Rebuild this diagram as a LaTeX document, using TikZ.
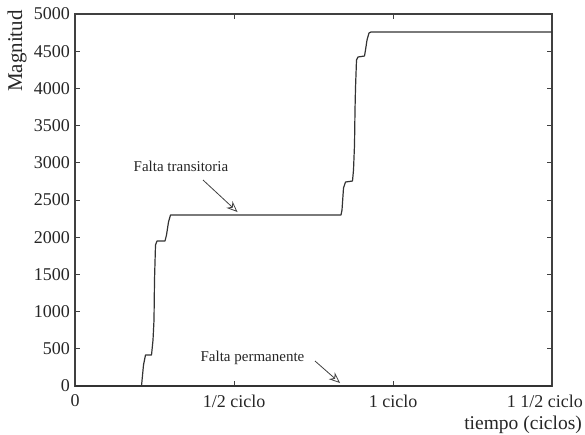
\documentclass[tikz,border=0pt]{standalone}
\usepackage{fontspec}
\setmainfont{Liberation Serif}
\usetikzlibrary{arrows.meta}
\begin{document}
\begin{tikzpicture}[x=1pt,y=-1pt,
  axisline/.style={draw=black!75, line width=1.1pt},
  curveline/.style={draw=black!80, line width=1.2pt, line join=round},
  tickmark/.style={draw=black!75, line width=0.9pt},
  ticklabel/.style={inner sep=0pt, text=black!85, font=\fontsize{18}{20}\selectfont},
  annot/.style={inner sep=0pt, text=black!85, font=\fontsize{15}{17}\selectfont},
  annotarrow/.style={draw=black!75, line width=0.8pt, -{Stealth[open, length=11pt, width=9pt, inset=3.5pt]}}]
\useasboundingbox (0,0) rectangle (585,434);
% axes box
\draw[axisline] (75,14) rectangle (552,386);
% y ticks
\foreach \v/\lab in {0/0,500/500,1000/1000,1500/1500,2000/2000,2500/2500,3000/3000,3500/3500,4000/4000,4500/4500,5000/5000}{
  \pgfmathsetmacro{\yy}{386-\v*0.0744}
  \draw[tickmark] (75,\yy) -- (80,\yy);
  \draw[tickmark] (552,\yy) -- (547,\yy);
  \node[ticklabel, anchor=east] (yl\v) at (70,\yy) {\lab};
}
% x ticks
\foreach \xx/\lab/\nm in {75/0/a,234/{1/2 ciclo}/b,393/{1 ciclo}/c}{
  \draw[tickmark] (\xx,386) -- (\xx,381);
  \draw[tickmark] (\xx,14) -- (\xx,19);
  \node[ticklabel, anchor=center] (xl\nm) at (\xx,401) {\lab};
}
\node[ticklabel, anchor=east] (xld) at (583,401) {1 1/2 ciclo};
\node[inner sep=0pt, text=black!85, font=\fontsize{19.5}{22}\selectfont, anchor=east] (xlabel) at (582,425) {tiempo (ciclos)};
\node[inner sep=0pt, text=black!85, font=\fontsize{21}{23}\selectfont, rotate=90] (ylabel) at (17,51) {Magnitud};
% permanent fault (zero line)
\draw[curveline, line width=1.6pt] (75,386) -- (552,386);
% transient fault curve
\draw[curveline] (75,386) -- (141.5,386) -- (143.5,365) -- (145.5,355) -- (151.5,355)
  -- (153,340) -- (154,320) -- (154.5,280) -- (155.5,245) -- (157,241) -- (165,241)
  -- (166.5,235) -- (168.5,222) -- (170.5,215) -- (341,215) -- (342,210) -- (343.5,188)
  -- (345.5,182) -- (352.5,181) -- (353.5,170) -- (354.5,145) -- (355,110) -- (355.5,88)
  -- (356.5,60) -- (358,57) -- (364.5,56) -- (365.5,50) -- (367,40) -- (369,33) -- (371,32) -- (552,32);
% annotations
\node[annot] (ftrans) at (181,166) {Falta transitoria};
\coordinate (ttip) at (237.5,212);
\draw[annotarrow] (203,180) -- (ttip);
\node[annot] (fperm) at (252.5,358) {Falta permanente};
\coordinate (ptip) at (340,383);
\draw[annotarrow] (315,361) -- (ptip);
\end{tikzpicture}
\end{document}
